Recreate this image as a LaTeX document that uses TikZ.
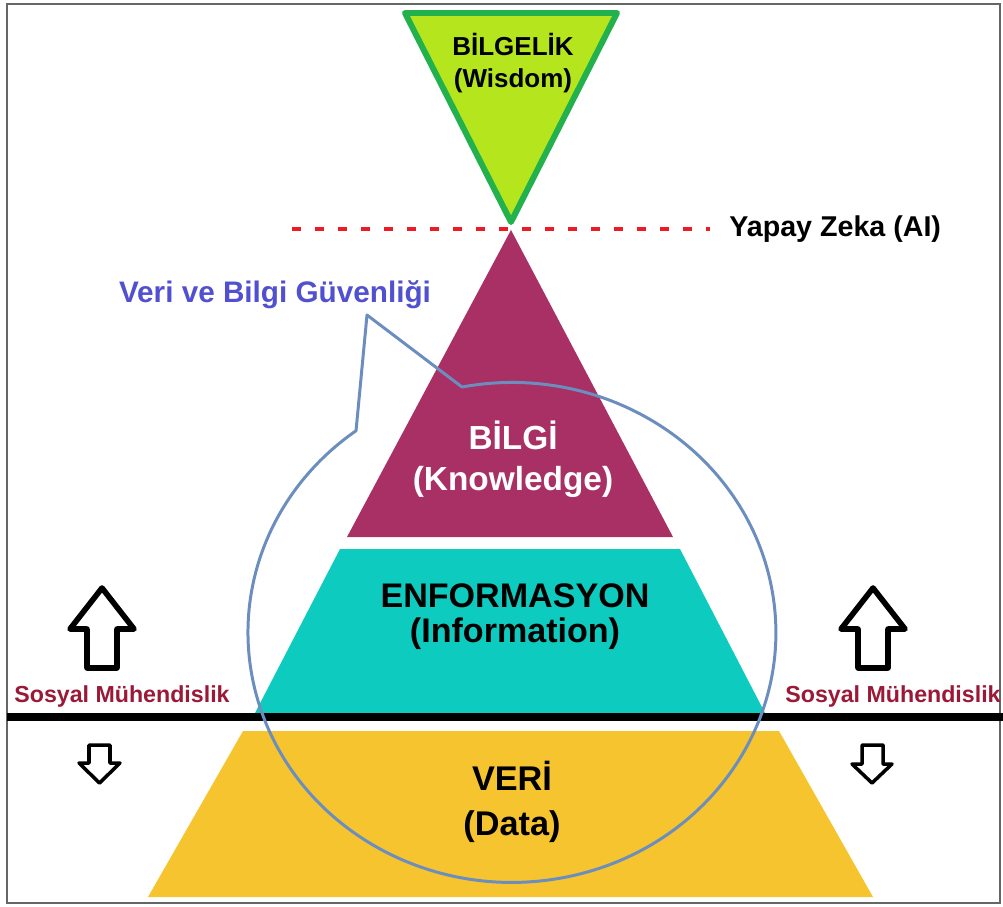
\documentclass[tikz,border=0pt]{standalone}
\usepackage{fontspec}
\setmainfont{Liberation Sans}
\usetikzlibrary{calc,positioning}
\definecolor{wisfill}{RGB}{181,230,29}
\definecolor{wisline}{RGB}{34,177,76}
\definecolor{knowfill}{RGB}{168,48,101}
\definecolor{infofill}{RGB}{14,203,192}
\definecolor{datafill}{RGB}{246,196,46}
\definecolor{aired}{RGB}{237,28,36}
\definecolor{secline}{RGB}{108,142,191}
\definecolor{sectext}{RGB}{80,80,208}
\definecolor{smtext}{RGB}{155,25,55}
\tikzset{
  frame/.style={draw=black!60, line width=1.2pt},
  lbl/.style={font=\bfseries, align=center, inner sep=0pt},
  big/.style={font=\bfseries\fontsize{19}{23}\selectfont},
  small/.style={font=\bfseries\fontsize{13.2}{15}\selectfont, text=smtext},
  ailine/.style={draw=aired, line width=2.8pt, dash pattern=on 5.1pt off 8pt},
  secpath/.style={draw=secline, line width=1.7pt, line join=round},
  uparrow/.style={draw=black, fill=white, line width=3.2pt, line join=round},
  downarrow/.style={draw=black, fill=white, line width=2pt, line join=round},
}

\begin{document}
\begin{tikzpicture}[x=0.02cm, y=-0.02cm]
  \useasboundingbox (0,0) rectangle (1003,906);
  \fill[white] (0,0) rectangle (1003,906);
  \draw[frame] (7,4) rectangle (1000,903);

  % pyramid levels
  \filldraw[fill=wisfill, draw=wisline, line width=3.4pt, line join=round]
    (405,13) -- (617,13) -- (511,222) -- cycle;
  \fill[knowfill] (511,230) -- (673,537) -- (347,537) -- cycle;
  \fill[infofill] (340,549) -- (680,549) -- (765,713) -- (255,713) -- cycle;
  \fill[datafill] (243,731) -- (779,731) -- (873,897) -- (148,897) -- cycle;

  % ground line
  \draw[line width=4pt] (7,717) -- (1003,717);

  % AI line
  \node[lbl, font=\bfseries\fontsize{16.3}{19}\selectfont, anchor=base west] (ai) at (729,236) {Yapay Zeka (AI)};
  \coordinate (aistart) at (292,229);
  \draw[ailine] (aistart) -- ($(aistart -| ai.west)+(-19,0)$);

  % security callout
  \draw[secpath] (462,387) arc[start angle=100.9, end angle=-233.8, x radius=5.28cm, y radius=5cm]
    -- (367,315) -- cycle;
  \node[lbl, font=\bfseries\fontsize{16.9}{20}\selectfont, text=sectext, anchor=base] (sec) at (275,302) {Veri ve Bilgi Güvenliği};

  % arrows
  \draw[uparrow] (102,588) -- (134,629) -- (117,629) -- (117,668) -- (87,668) -- (87,629) -- (70,629) -- cycle;
  \draw[uparrow] (873,588) -- (905,629) -- (888,629) -- (888,668) -- (858,668) -- (858,629) -- (841,629) -- cycle;
  \draw[downarrow] (89,745) -- (110,745) -- (110,763) -- (120,763) -- (99.5,783) -- (79,763) -- (89,763) -- cycle;
  \draw[downarrow] (862,745) -- (883,745) -- (883,764) -- (892,764) -- (872,783) -- (852,764) -- (862,764) -- cycle;

  \node[lbl, small, anchor=base] (smleft) at (122,702) {Sosyal Mühendislik};
  \node[lbl, small, anchor=base] (smright) at (893,702) {Sosyal Mühendislik};

  % level labels
  \node[lbl, font=\bfseries\fontsize{14.8}{18}\selectfont] (wis) at (513,63) {BİLGELİK\\(Wisdom)};
  \node[lbl, big, text=white, font=\bfseries\fontsize{19}{23.3}\selectfont] (know) at (513,459) {BİLGİ\\(Knowledge)};
  \node[lbl, big, font=\bfseries\fontsize{19.4}{20}\selectfont] (info) at (515,617) {ENFORMASYON\\(Information)};
  \node[lbl, big, font=\bfseries\fontsize{19.5}{26}\selectfont] (data) at (512,802) {VERİ\\(Data)};
\end{tikzpicture}
\end{document}
